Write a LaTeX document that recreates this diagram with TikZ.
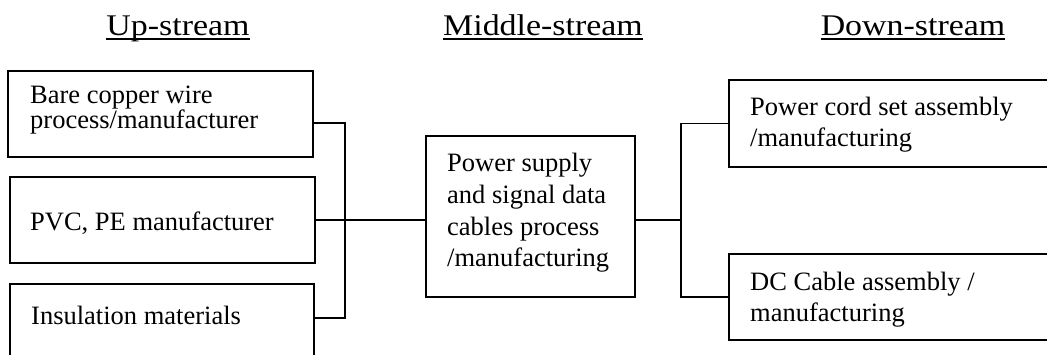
\documentclass[tikz,border=0pt]{standalone}
\usepackage{fontspec}
\setmainfont{Liberation Serif}
\begin{document}
\begin{tikzpicture}[x=1pt,y=-1pt,
  boxnode/.style={draw,line width=1.5pt,anchor=north west,inner sep=0pt,outer sep=0pt},
  txt/.style={anchor=base west,inner sep=0pt,align=left,font=\fontsize{26.5}{31.7}\selectfont},
  title/.style={anchor=base,inner sep=0pt,font=\fontsize{30}{34}\selectfont},
  uline/.style={line width=1.4pt},
  conn/.style={line width=1.5pt}]
\useasboundingbox (0,0) rectangle (1047,354);
\clip (0,0) rectangle (1047,354);
% titles
\node[title] (up) at (178,35) {\scalebox{1.13}[1]{Up-stream}};
\node[title] (mid) at (543,35) {\scalebox{1.13}[1]{Middle-stream}};
\node[title] (down) at (913,35) {\scalebox{1.13}[1]{Down-stream}};
\draw[uline] ([yshift=-4pt]up.base west) -- ([yshift=-4pt]up.base east);
\draw[uline] ([yshift=-4pt]mid.base west) -- ([yshift=-4pt]mid.base east);
\draw[uline] ([yshift=-4pt]down.base west) -- ([yshift=-4pt]down.base east);
% boxes
\node[boxnode,minimum width=305pt,minimum height=86pt] (b1) at (8,71) {};
\node[boxnode,minimum width=305pt,minimum height=86pt] (b2) at (10,177) {};
\node[boxnode,minimum width=304pt,minimum height=90pt] (b3) at (10,284) {};
\node[boxnode,minimum width=209pt,minimum height=161pt] (m) at (426,136) {};
\node[boxnode,minimum width=340pt,minimum height=87pt] (d1) at (729,80) {};
\node[boxnode,minimum width=340pt,minimum height=86pt] (d2) at (729,254) {};
% texts (base anchor = baseline of the last line)
\node[txt,font=\fontsize{26.5}{25}\selectfont] (t1) at (30,128) {Bare copper wire\\process/manufacturer};
\node[txt] (t2) at (30,230) {PVC, PE manufacturer};
\node[txt] (t3) at (31,324) {Insulation materials};
\node[txt] (tm) at (447,266.7) {Power supply\\and signal data\\cables process\\/manufacturing};
\node[txt] (td1) at (750,146.7) {Power cord set assembly\\/manufacturing};
\node[txt] (td2) at (750,321.7) {DC Cable assembly /\\manufacturing};
% connectors
\coordinate (jl) at (345,220);
\coordinate (jr) at (681,220);
\draw[conn] ([yshift=-9pt]b1.east) -| (jl) |- ([yshift=11pt]b3.east);
\draw[conn] (b2.east) -- (b2.east -| m.west);
\draw[conn] (m.east |- b2.east) -- (jr);
\draw[conn] (d1.west) -| (jr) |- (d2.west);
\end{tikzpicture}
\end{document}
